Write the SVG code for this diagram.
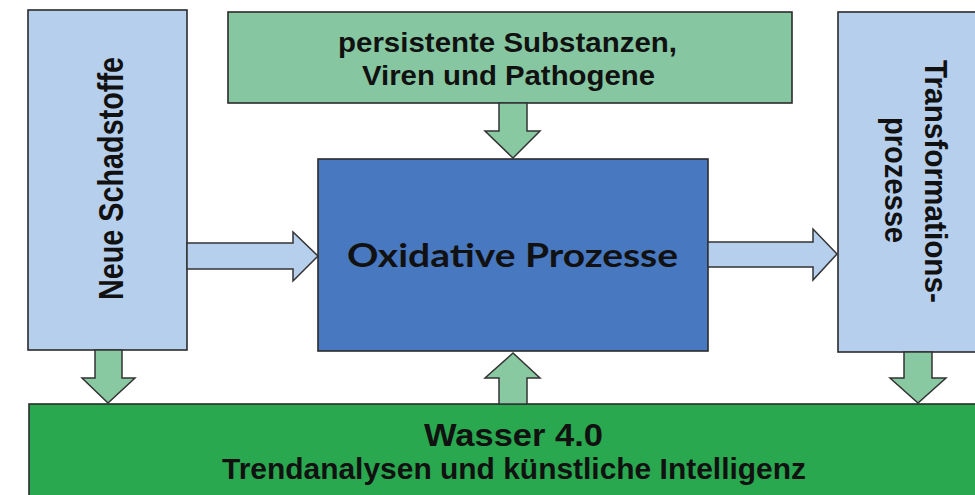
<svg xmlns="http://www.w3.org/2000/svg" width="975" height="495" viewBox="0 0 975 495">
<style>
.box{stroke:#2b2b2b;stroke-width:1.6}
.lb{fill:#b6cfec}
.tg{fill:#86c7a1}
.cb{fill:#4878bf}
.bg{fill:#2aa84f}
.ar{stroke:#333;stroke-width:1.5;stroke-linejoin:miter}
.ag{fill:#88c9a2}
.ab{fill:#b6cfec}
.t{font-family:"Liberation Sans",Arial,sans-serif;font-weight:bold;fill:#111}
.c{font-family:Lato,"Open Sans",sans-serif;font-weight:bold;fill:#111}
</style>
<rect width="975" height="495" fill="#fff"/>
<g id="neue-schadstoffe">
<rect class="box lb" x="28" y="10" width="159" height="340"/>
<text class="t" transform="translate(123,300) rotate(-90)" font-size="35" textLength="243" lengthAdjust="spacingAndGlyphs">Neue Schadstoffe</text>
</g>
<g id="persistente">
<rect class="box tg" x="228" y="12" width="564" height="91"/>
<text class="t" x="338" y="52" font-size="28" textLength="339" lengthAdjust="spacingAndGlyphs">persistente Substanzen,</text>
<text class="t" x="362" y="85" font-size="28" textLength="293" lengthAdjust="spacingAndGlyphs">Viren und Pathogene</text>
</g>
<g id="transformation">
<rect class="box lb" x="838" y="12" width="150" height="340"/>
<text class="t" transform="translate(925,60) rotate(90)" font-size="31" textLength="243" lengthAdjust="spacingAndGlyphs">Transformations-</text>
<text class="t" transform="translate(885,117) rotate(90)" font-size="31" textLength="126" lengthAdjust="spacingAndGlyphs">prozesse</text>
</g>
<g id="oxidative">
<rect class="box cb" x="318" y="159" width="390" height="192"/>
<text class="c" x="347" y="267" font-size="33" textLength="331" lengthAdjust="spacingAndGlyphs">Oxidative Prozesse</text>
</g>
<g id="wasser">
<rect class="box bg" x="29" y="404" width="960" height="100"/>
<text class="t" x="424" y="446" font-size="31" textLength="179" lengthAdjust="spacingAndGlyphs">Wasser 4.0</text>
<text class="t" x="222" y="479" font-size="29" textLength="584" lengthAdjust="spacingAndGlyphs">Trendanalysen und künstliche Intelligenz</text>
</g>
<g id="connectors">
<polygon class="ar ag" points="499,103 527,103 527,131 540,131 513,158 485,131 499,131"/>
<polygon class="ar ab" points="187,243 293,243 293,232 318,256 293,281 293,269 187,269"/>
<polygon class="ar ab" points="708,242 813,242 813,229 837,254 813,280 813,267 708,267"/>
<polygon class="ar ag" points="95,350 122,350 122,378 135,378 108,403 82,378 95,378"/>
<polygon class="ar ag" points="904,352 932,352 932,378 946,378 918,403 890,378 904,378"/>
<polygon class="ar ag" points="499,404 527,404 527,378 540,378 513,353 485,378 499,378"/>
</g>
</svg>
